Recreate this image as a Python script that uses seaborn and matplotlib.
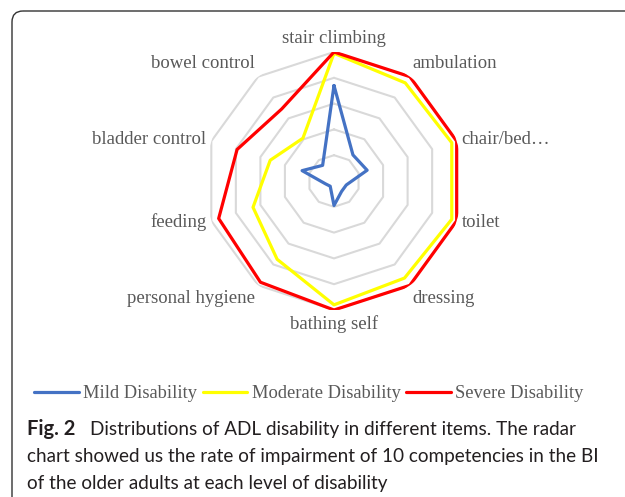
import numpy as np
import pandas as pd
import matplotlib
matplotlib.use('Agg')
import matplotlib.pyplot as plt
from matplotlib.patches import FancyBboxPatch
from matplotlib.lines import Line2D
import seaborn as sns

# ADL items, clockwise from the top
items = ['stair climbing', 'ambulation', 'chair/bed\u2026', 'toilet', 'dressing',
         'bathing self', 'personal hygiene', 'feeding', 'bladder control',
         'bowel control']
# impairment rate (%)
mild = [74, 25, 27, 10, 10, 19, 5, 7, 26, 15]
moderate = [99, 94, 96, 96, 93, 96, 75, 66, 52, 41]
severe = [100, 100, 100, 100, 100, 100, 97, 94, 79, 69]
levels = ['Mild Disability', 'Moderate Disability', 'Severe Disability']
colors = ['#4472C4', '#FFFF00', '#FF0000']
rings = [20, 40, 60, 80, 100]

sns.set_theme(style='white')
plt.rcParams['font.family'] = ['Liberation Serif', 'DejaVu Serif']

n = len(items)
angles = np.arange(n) * 2 * np.pi / n
theta_closed = np.append(angles, 2 * np.pi)

rows = []
for lvl, vals in zip(levels, [mild, moderate, severe]):
    for t, v in zip(theta_closed, vals + vals[:1]):
        rows.append({'theta': t, 'value': v, 'level': lvl})
df = pd.DataFrame(rows)

fig = plt.figure(figsize=(6.25, 4.97), dpi=100)

# background axes in pixel units for the frame and caption
bg = fig.add_axes([0, 0, 1, 1])
bg.set_xlim(0, 625)
bg.set_ylim(497, 0)
bg.axis('off')
bg.add_patch(FancyBboxPatch((12, 11), 640, 520,
                            boxstyle='round,pad=0,rounding_size=11',
                            fc='none', ec='#333333', lw=1.0))

ax = fig.add_axes([205 / 625, 187 / 497, 258 / 625, 258 / 497], projection='polar')
ax.set_theta_zero_location('N')
ax.set_theta_direction(-1)
ax.patch.set_alpha(0)

for r in rings:
    ax.plot(theta_closed, [r] * (n + 1), color='#d9d9d9', lw=1.5, zorder=1)

sns.lineplot(data=df, x='theta', y='value', hue='level', hue_order=levels,
             palette=colors, linewidth=2.3, legend=False, ax=ax, zorder=3)

ax.set_ylim(0, 100)
ax.set_xticks([])
ax.set_yticks([])
ax.grid(False)
ax.spines['polar'].set_visible(False)
ax.set_xlabel('')
ax.set_ylabel('')

for th, lab in zip(angles, items):
    s, c = np.sin(th), np.cos(th)
    ha = 'left' if s > 0.1 else ('right' if s < -0.1 else 'center')
    va = 'bottom' if c > 0.5 else ('top' if c < -0.5 else 'center')
    ax.text(th, 104, lab, ha=ha, va=va, fontsize=13.5, color='#595959')

handles = [Line2D([], [], color=c, lw=2.3) for c in colors]
fig.legend(handles, levels, loc='center', bbox_to_anchor=(309 / 625, 1 - 394 / 497),
           ncol=3, frameon=False, fontsize=13.3, handlelength=2.4,
           handletextpad=0.25, columnspacing=0.3, labelcolor='#595959')

cap_font = ['Lato', 'DejaVu Sans']
cap_kw = dict(fontsize=13.6, color='#231f20', va='baseline', family=cap_font)
bg.text(27, 435, 'Fig. 2', fontweight='bold', **dict(cap_kw, fontsize=14.5))
bg.text(90, 435, 'Distributions of ADL disability in different items. The radar', **cap_kw)
bg.text(27, 462, 'chart showed us the rate of impairment of 10 competencies in the BI', **cap_kw)
bg.text(27, 489, 'of the older adults at each level of disability', **cap_kw)

fig.savefig('out.png', dpi=100)
